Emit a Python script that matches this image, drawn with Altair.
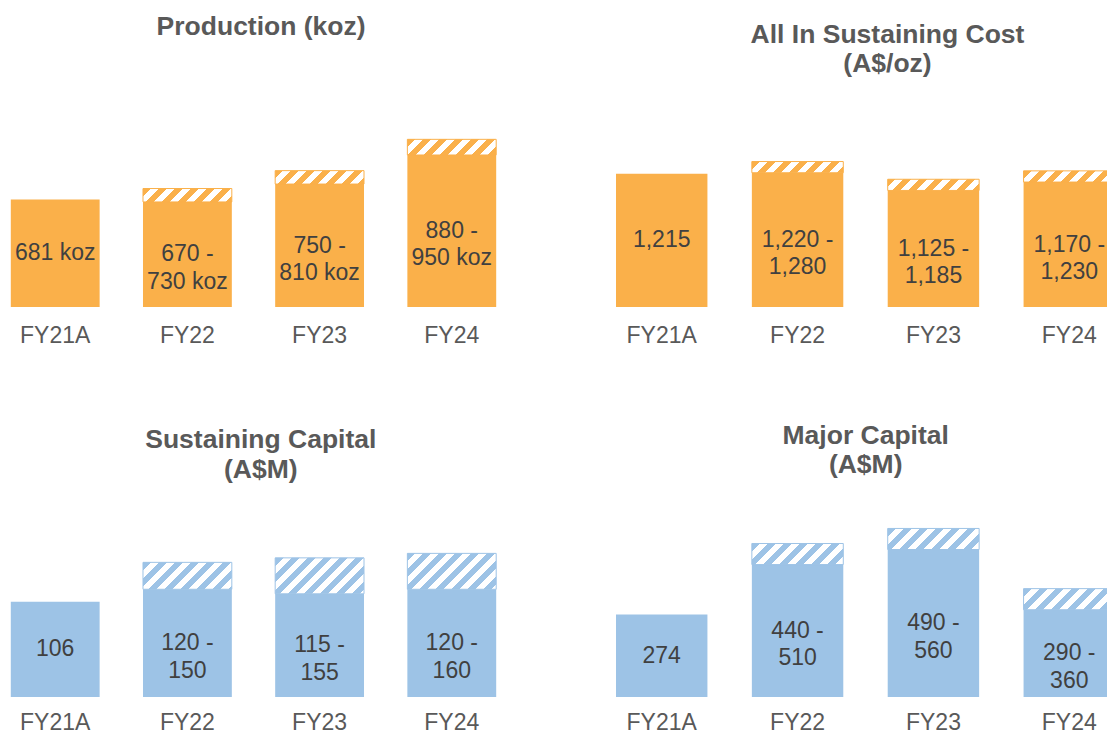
import altair as alt
import pandas as pd

periods = ["FY21A", "FY22", "FY23", "FY24"]

production_low = [681, 670, 750, 880]
production_high = [681, 730, 810, 950]
aisc_low = [1215, 1220, 1125, 1170]
aisc_high = [1215, 1280, 1185, 1230]
sustaining_low = [106, 120, 115, 120]
sustaining_high = [106, 150, 155, 160]
major_low = [274, 440, 490, 290]
major_high = [274, 510, 560, 360]

panel_titles = [
    ["Production (koz)"],
    ["All In Sustaining Cost", "(A$/oz)"],
    ["Sustaining Capital", "(A$M)"],
    ["Major Capital", "(A$M)"],
]
label_units = [" koz", "", "", ""]
y_domains = [[200, 1126], [500, 1610], [0, 230.6], [0, 687.7]]
bar_colors = ["#FAB04A", "#FAB04A", "#9DC3E6", "#9DC3E6"]

PW, PH = 491, 207
# left column: band fits the plot; right column: band runs past the right edge (cut off like the original)
BANDS = [
    dict(paddingInner=0.328, paddingOuter=0.0212, range_w=491),
    dict(paddingInner=0.327, paddingOuter=0.0, range_w=499),
]
TITLE_OFFSET = [38.7, 1.5, -14.3, -9.5]
TITLE_DX = [7.6, 26, 7.3, 4.2]
LABEL_PAD = [17, 17, 14, 14]
FONT = "Liberation Sans"


def band_width(b):
    n = len(periods)
    step = b["range_w"] / (n - b["paddingInner"] + 2 * b["paddingOuter"])
    return step * (1 - b["paddingInner"])


def hatch_fill(color, w, h, period=16.0, white=0.5):
    L = w + h
    d = w * w + h * h
    stops = []
    a = 0.0
    while a < L:
        b = min(a + period * (1 - white), L)
        c = min(a + period, L)
        stops += [(color, a / L), (color, b / L), ("#FFFFFF", b / L), ("#FFFFFF", c / L)]
        a += period
    return alt.LinearGradient(
        gradient="linear", x1=0, y1=0, x2=L * w / d, y2=L * h / d,
        stops=[alt.GradientStop(color=col, offset=min(1.0, round(o, 5))) for col, o in stops],
    )


def make_label(lo, hi, unit):
    if lo == hi:
        return f"{lo:,}{unit}"
    return f"{lo:,} -\n{hi:,}{unit}"


def panel(i, lows, highs):
    base, top = y_domains[i]
    color = bar_colors[i]
    band = BANDS[i % 2]
    df = pd.DataFrame({
        "period": periods,
        "low": lows,
        "high": highs,
        "base": [base] * len(periods),
        "label": [make_label(l, h, label_units[i]) for l, h in zip(lows, highs)],
    })
    xenc = alt.X(
        "period:N", sort=periods,
        scale=alt.Scale(paddingInner=band["paddingInner"], paddingOuter=band["paddingOuter"],
                        range=[0, band["range_w"]]),
        axis=alt.Axis(title=None, labelAngle=0, labelFontSize=23, labelFont=FONT, labelColor="#595959",
                      ticks=False, tickSize=0, domain=False, grid=False, labelPadding=LABEL_PAD[i]),
    )
    yscale = alt.Scale(domain=[base, top], zero=False, nice=False)
    basechart = alt.Chart(df).encode(x=xenc)
    solid = basechart.mark_bar(color=color).encode(
        y=alt.Y("low:Q", scale=yscale, axis=None), y2="base:Q"
    )
    layers = [solid]
    w = band_width(band)
    for p, lo, hi in zip(periods, lows, highs):
        if hi > lo:
            h = (hi - lo) * PH / (top - base)
            layers.append(
                basechart.transform_filter(alt.datum.period == p).mark_bar(
                    fill=hatch_fill(color, w, h), stroke=color, strokeWidth=1
                ).encode(y=alt.Y("high:Q", scale=yscale, axis=None), y2="low:Q")
            )
    text = basechart.transform_calculate(mid="(datum.base + datum.low) / 2").mark_text(
        lineBreak="\n", fontSize=23, font=FONT, color="#404040", baseline="middle", align="center",
        lineHeight=27.5,
    ).encode(y=alt.Y("mid:Q", scale=yscale, axis=None), text="label:N")
    layers.append(text)
    return alt.layer(*layers).properties(
        width=PW, height=PH,
        title=alt.TitleParams(
            text=panel_titles[i], fontSize=26.5, fontWeight="bold", color="#595959", font=FONT,
            lineHeight=29.5, baseline="alphabetic", anchor="middle",
            offset=TITLE_OFFSET[i], dx=TITLE_DX[i],
        ),
    )


panels = [
    panel(0, production_low, production_high),
    panel(1, aisc_low, aisc_high),
    panel(2, sustaining_low, sustaining_high),
    panel(3, major_low, major_high),
]

chart = alt.concat(
    *panels, columns=2, spacing=alt.RowColnumber(row=183, column=117)
).properties(
    bounds="flush", padding={"left": 0, "right": -9, "top": 5, "bottom": 0}
).configure_view(strokeWidth=0)

chart.save("out.html", embed_options={"renderer": "svg", "actions": False})
